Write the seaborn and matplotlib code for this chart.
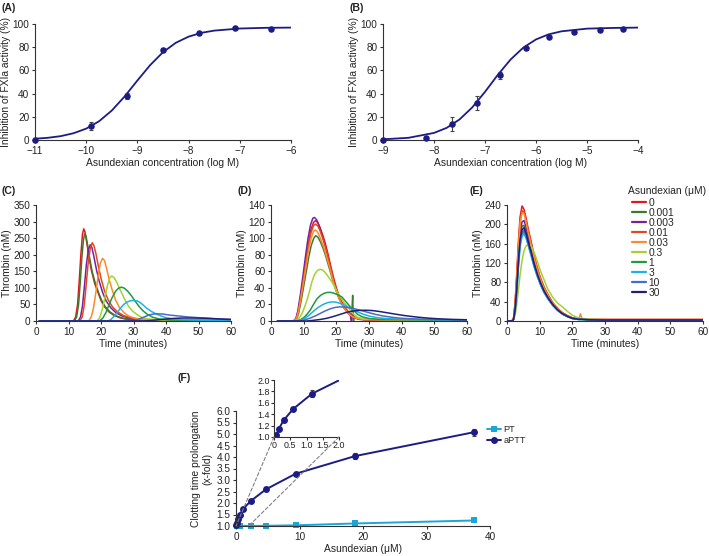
import matplotlib
matplotlib.use("Agg")
import matplotlib.pyplot as plt
from matplotlib.lines import Line2D
from matplotlib.patches import ConnectionPatch
from matplotlib.ticker import FormatStrFormatter
import pandas as pd
import seaborn as sns

# (A) FXIa inhibition, purified enzyme
A_LOGC = [-11, -9.9, -9.2, -8.5, -7.8, -7.1, -6.4]
A_INHIB = [0, 12, 38, 78, 92.5, 96.5, 95.5]
A_ERR = [0, 3.5, 2.5, 1.5, 1, 1, 1]
A_FIT_X = [-11, -10.75, -10.5, -10.25, -10, -9.75, -9.5, -9.25, -9, -8.75, -8.5,
           -8.25, -8, -7.75, -7.5, -7, -6.5, -6]
A_FIT_Y = [1.1, 1.9, 3.3, 5.8, 9.8, 16.1, 25.4, 37.5, 51.3, 64.6, 75.7,
           83.8, 89.1, 92.4, 94.3, 96.1, 96.7, 96.9]

# (B) FXIa inhibition, plasma
B_LOGC = [-9, -8.15, -7.65, -7.15, -6.7, -6.2, -5.75, -5.25, -4.75, -4.3]
B_INHIB = [0, 2, 14, 32, 56, 79, 89, 93.5, 95, 95.5]
B_ERR = [0, 1, 6, 6, 3, 1, 1, 1, 1, 1]
B_FIT_X = [-9, -8.5, -8, -7.75, -7.5, -7.25, -7, -6.75, -6.5, -6.25, -6,
           -5.75, -5.5, -5, -4.5, -4]
B_FIT_Y = [0.6, 1.9, 6.1, 10.5, 17.7, 28.1, 41.5, 56.1, 69.3, 79.6, 86.7,
           91.1, 93.7, 96.0, 96.6, 96.9]

# thrombin generation, asundexian doses (uM)
DOSES = ["0", "0.001", "0.003", "0.01", "0.03", "0.3", "1", "3", "10", "30"]
DOSE_COLORS = ["#e8161b", "#3c7a2e", "#7a1fa0", "#e04a1b", "#ff8a2a",
               "#a3d233", "#1f9a3e", "#1fb2e0", "#4a6cc4", "#1f1f7a"]

# (C) (time min, thrombin nM) per dose
C_TRACES = {
    "0": [(1, 0), (11.5, 0), (12.2, 12), (12.8, 50), (13.3, 120), (13.8, 200), (14.3, 262),
          (14.7, 278), (15.1, 268), (15.6, 238), (16.2, 200), (17, 155), (18, 115), (19, 88),
          (20, 62), (21, 44), (22.5, 27), (24, 17), (26, 9), (28, 5), (32, 3), (40, 2), (60, 1)],
    "0.001": [(1, 0), (11.8, 0), (12.5, 12), (13.1, 50), (13.6, 115), (14.1, 190), (14.6, 245),
              (15, 263), (15.4, 255), (15.9, 228), (16.5, 190), (17.3, 148), (18.3, 112),
              (19.3, 84), (20.3, 60), (21.3, 43), (22.8, 27), (24.5, 16), (26.5, 9), (29, 5),
              (33, 3), (40, 2), (60, 1)],
    "0.003": [(1, 0), (13, 0), (13.7, 12), (14.3, 45), (14.9, 105), (15.5, 170), (16.1, 215),
              (16.7, 230), (17.2, 222), (17.8, 195), (18.6, 155), (19.5, 118), (20.5, 86),
              (21.5, 62), (23, 40), (24.5, 26), (26.5, 15), (29, 8), (32, 5), (36, 3), (45, 2),
              (60, 1)],
    "0.01": [(1, 0), (13.5, 0), (14.2, 12), (14.8, 45), (15.4, 105), (16, 170), (16.7, 220),
             (17.3, 236), (17.8, 228), (18.4, 205), (19.2, 165), (20.1, 125), (21.1, 90),
             (22.2, 64), (23.5, 43), (25, 28), (27, 16), (29.5, 9), (33, 5), (38, 3), (60, 1)],
    "0.03": [(1, 0), (16.2, 0), (17, 12), (17.7, 40), (18.4, 85), (19.1, 135), (19.8, 175),
             (20.5, 189), (21.1, 182), (21.8, 155), (22.6, 122), (23.5, 92), (24.5, 63),
             (25.6, 42), (27, 26), (28.5, 15), (30.5, 8), (33, 4), (38, 2), (60, 1)],
    "0.3": [(1, 0), (18.8, 0), (19.6, 10), (20.4, 35), (21.2, 70), (22, 108), (22.7, 130),
            (23.3, 136), (24, 131), (24.8, 118), (25.7, 98), (26.6, 80), (27.4, 63), (28.5, 44),
            (29.7, 30), (31, 20), (32.5, 11), (34.5, 6), (38, 3), (45, 2), (60, 1)],
    "1": [(1, 0), (19.5, 0), (20.5, 8), (21.5, 25), (22.5, 50), (23.5, 72), (24.5, 90),
          (25.4, 99), (26.3, 102), (27.2, 99), (28.2, 90), (29.3, 77), (30.5, 60), (31.7, 44),
          (33, 30), (34.3, 20), (36, 11), (38, 6), (41, 3), (48, 2), (60, 1)],
    "3": [(1, 0), (22, 0), (23, 4), (24, 14), (25, 26), (26, 39), (27, 50), (28, 57), (29, 61),
          (30, 62), (31, 61), (32, 56), (33, 48), (34, 39), (35.5, 29), (37, 21), (38.5, 15),
          (40, 10), (42, 6), (45, 4), (50, 2.5), (60, 1.5)],
    "10": [(1, 0), (29, 0), (31, 3), (33, 11), (35, 19), (37, 22), (39, 21), (41, 18), (44, 15),
           (47, 12), (50, 10), (53, 8), (56, 6), (60, 4)],
    "30": [(1, 0), (33, 0), (37, 3), (41, 7), (45, 9), (49, 9), (53, 8), (57, 6), (60, 5)],
}

# (D)
D_TRACES = {
    "0": [(2, 0), (7, 0), (7.8, 3), (8.4, 12), (9.2, 32), (10, 53), (10.8, 75), (11.5, 94),
          (12.2, 110), (13, 119), (13.6, 121), (14.3, 119), (15.1, 112), (15.9, 103),
          (16.6, 94), (17.5, 80), (18.3, 66), (19.1, 53), (20, 40), (20.8, 31), (21.7, 23),
          (22.7, 16), (23.7, 11), (25, 6), (26.5, 3), (29, 1.5), (35, 1), (60, 1)],
    "0.001": [(2, 0), (7.1, 0), (7.9, 3), (8.5, 10), (9.3, 26), (10.1, 44), (10.9, 62),
              (11.6, 78), (12.3, 91), (13.1, 100), (13.7, 103), (14.4, 101), (15.2, 95),
              (16, 87), (16.7, 79), (17.6, 67), (18.4, 56), (19.2, 45), (20.1, 35), (20.9, 27),
              (21.8, 20), (22.8, 14), (23.8, 9), (24.7, 6), (25, 31), (25.2, -3), (25.5, 4),
              (26.5, 3), (29, 1.5), (60, 1)],
    "0.003": [(2, 0), (6.8, 0), (7.6, 3), (8.2, 12), (9, 32), (9.8, 55), (10.6, 79), (11.3, 99),
              (12.1, 116), (12.8, 124), (13.3, 125), (14, 122), (14.8, 114), (15.6, 104),
              (16.4, 94), (17.3, 80), (18.1, 66), (18.9, 53), (19.8, 40), (20.6, 30), (21.5, 22),
              (22.5, 15), (23.5, 10), (24.3, 7), (24.6, -2), (24.9, 8), (25.5, 4), (27, 2),
              (30, 1), (60, 1)],
    "0.01": [(2, 0), (7, 0), (7.8, 3), (8.4, 12), (9.2, 31), (10, 52), (10.8, 73), (11.5, 91),
             (12.2, 106), (13, 115), (13.6, 117), (14.3, 115), (15.1, 108), (15.9, 99),
             (16.6, 90), (17.5, 77), (18.3, 63), (19.1, 50), (20, 38), (20.8, 29), (21.7, 21),
             (22.7, 14), (23.7, 9), (25, 5), (26.5, 3), (29, 1.5), (60, 1)],
    "0.03": [(2, 0), (7, 0), (7.8, 3), (8.4, 11), (9.2, 29), (10, 48), (10.8, 68), (11.5, 85),
             (12.2, 99), (13, 108), (13.6, 110), (14.3, 107), (15.1, 100), (15.9, 92),
             (16.6, 83), (17.5, 71), (18.3, 59), (19.1, 47), (20, 36), (20.8, 27), (21.7, 20),
             (22.7, 14), (23.7, 9), (25, 5), (26.5, 3), (29, 1.5), (60, 1)],
    "0.3": [(2, 0), (7.5, 0), (8.5, 3), (9.5, 9), (10.3, 17), (11, 25), (11.8, 36), (12.5, 47),
            (13.3, 56), (14.2, 61), (15.1, 62.5), (16, 61), (16.9, 57), (17.8, 52), (18.7, 47),
            (19.6, 40), (20.4, 34), (21.2, 29), (22.4, 22), (23.7, 16), (25, 9), (26.5, 4.5),
            (28.5, 2.5), (35, 1.5), (60, 1)],
    "1": [(2, 0), (8, 0), (9, 1.5), (10, 4), (11, 8), (12, 13), (13, 20), (14.1, 27), (15.2, 31),
          (16.3, 33.5), (17.3, 34.5), (18.3, 34.5), (19.3, 33.5), (20.5, 31.5), (21.7, 29),
          (23, 23), (24.3, 17), (25.5, 12), (26.5, 8), (28, 5), (30, 3), (33, 2), (60, 1)],
    "3": [(2, 0), (8.3, 0), (9.5, 1.5), (10.5, 3.5), (11.5, 6.5), (12.5, 10), (13.5, 13.5),
          (14.5, 16.5), (15.5, 19), (16.5, 21), (17.5, 22.3), (18.7, 23), (19.8, 22.8),
          (21, 21.5), (22.3, 19.5), (23.5, 17), (25, 14), (26.5, 11), (28, 8.5), (30, 6),
          (32.5, 4), (35, 3), (40, 2), (60, 1)],
    "10": [(2, 0), (9, 0), (10.5, 1.5), (12, 3.5), (13.5, 6), (15, 9), (16.5, 12), (18, 14.5),
           (19.5, 16.3), (21, 17), (22.5, 16.8), (24, 16), (25.5, 14.8), (27, 13.3),
           (28.5, 11.7), (30, 10), (32, 8), (34, 6.3), (36.5, 4.8), (39, 3.6), (42, 2.8),
           (46, 2.2), (50, 1.8), (55, 1.5), (60, 1.2)],
    "30": [(2, 0), (11, 0), (13, 0.8), (15, 1.8), (17, 3.2), (19, 5.3), (21, 7.8), (23, 10.3),
           (25, 12), (27, 12.8), (29, 13), (31, 12.6), (33, 11.6), (35, 10.3), (37, 9),
           (39, 7.7), (41, 6.5), (43, 5.5), (45, 4.6), (48, 3.5), (51, 2.7), (55, 2), (60, 1.5)],
}

# (E) shared time grid
E_TIME = [0, 1.5, 2, 2.5, 3, 3.5, 4, 4.6, 5.2, 5.8, 6.5, 7.3, 8.2, 9.2, 10.2, 11.3, 12.5,
          14, 15.5, 17, 18.5, 20, 22, 22.5, 23, 25, 30, 40, 50, 60]
E_THROMBIN = {
    "0": [0, 0, 6, 40, 100, 165, 215, 238, 231, 214, 190, 167, 138, 112, 90, 71, 55, 38, 26,
          17, 11, 6.5, 4, 4, 4, 3, 3, 3, 3, 3],
    "0.001": [0, 0, 4, 28, 76, 131, 174, 196, 198, 186, 167, 147, 122, 99, 80, 63, 49, 34, 23,
              15, 10, 6, 4, 4, 4, 3, 2.5, 2.5, 2.5, 2.5],
    "0.003": [0, 0, 4, 30, 80, 138, 183, 205, 208, 195, 175, 154, 128, 104, 84, 66, 51, 35, 24,
              16, 10, 6, 4, 4, 4, 3, 2.5, 2.5, 2.5, 2.5],
    "0.01": [0, 0, 5, 36, 92, 155, 205, 228, 226, 210, 187, 164, 136, 110, 88, 70, 54, 37, 25,
             17, 11, 6.5, 4, 4, 4, 3, 3, 3, 3, 3],
    "0.03": [0, 0, 5, 35, 90, 152, 202, 224, 222, 206, 183, 160, 133, 108, 86, 68, 53, 36, 25,
             16, 10, 6, 4, 15, 3, 3, 3, 3, 3, 3],
    "0.3": [0, 0, 2, 12, 35, 65, 95, 125, 145, 155, 159, 156, 144, 125, 104, 86, 66, 49, 37,
            29, 20, 12, 6, 5, 5, 3.5, 2.5, 2.5, 2.5, 2.5],
    "1": [0, 0, 3, 22, 64, 116, 158, 180, 184, 175, 158, 139, 116, 95, 77, 60, 47, 33, 22, 14,
          9, 5, 3, 3, 3, 2.5, 2, 2, 2, 2],
    "3": [0, 0, 3, 20, 60, 110, 152, 175, 180, 172, 156, 137, 114, 93, 75, 59, 46, 32, 22, 14,
          9, 5, 3, 3, 3, 2.5, 2, 2, 2, 2],
    "10": [0, 0, 3, 24, 68, 121, 163, 184, 188, 178, 160, 141, 118, 96, 78, 61, 47, 33, 22, 15,
           9.5, 5.5, 3.5, 3.5, 3.5, 2.5, 2, 2, 2, 2],
    "30": [0, 0, 3, 25, 70, 125, 168, 189, 193, 182, 164, 145, 121, 99, 80, 63, 49, 34, 23, 15,
           9.5, 5.5, 3.5, 3.5, 3.5, 2.5, 2, 2, 2, 2],
}

# (F) clotting time prolongation
APTT_X = [0.073, 0.146, 0.293, 0.586, 1.17, 2.34, 4.69, 9.375, 18.75, 37.5]
APTT_Y = [1.03, 1.14, 1.29, 1.49, 1.76, 2.09, 2.59, 3.27, 4.04, 5.08]
APTT_ERR = [0.01, 0.02, 0.03, 0.04, 0.06, 0.04, 0.05, 0.05, 0.12, 0.15]
PT_X = [0.146, 0.586, 2.34, 4.69, 9.375, 18.75, 37.5]
PT_Y = [1.0, 1.01, 1.0, 1.01, 1.03, 1.11, 1.24]

NAVY = "#1c1c84"
CYAN = "#1aa7d8"
INK = "#333333"

sns.set_style("ticks")
plt.rcParams["font.family"] = ["Liberation Sans", "DejaVu Sans"]
plt.rcParams.update({
    "axes.edgecolor": INK, "axes.linewidth": 0.8,
    "xtick.color": INK, "ytick.color": INK,
    "xtick.labelcolor": "#222222", "ytick.labelcolor": "#222222",
    "xtick.major.size": 2.5, "ytick.major.size": 2.5,
    "xtick.major.width": 0.8, "ytick.major.width": 0.8,
    "xtick.major.pad": 1.5, "ytick.major.pad": 1.5,
    "xtick.labelsize": 7.2, "ytick.labelsize": 7.2,
    "axes.labelsize": 7.4, "axes.labelcolor": "#222222",
})

W, H = 709, 556
fig = plt.figure(figsize=(W / 100, H / 100), dpi=100)


def add_ax(left, right, top, bottom):
    return fig.add_axes([left / W, 1 - bottom / H, (right - left) / W, (bottom - top) / H])


def long_frame(traces):
    rows = []
    for dose, pts in traces.items():
        for t, v in pts:
            rows.append((dose, t, v))
    return pd.DataFrame(rows, columns=["dose", "time", "thrombin"])


palette = dict(zip(DOSES, DOSE_COLORS))

# ---- (A) and (B) ----
for box, xs, ys, es, fx, fy, xlim in [
    ((35, 291, 24, 140), A_LOGC, A_INHIB, A_ERR, A_FIT_X, A_FIT_Y, (-11, -6)),
    ((383, 638, 24, 140), B_LOGC, B_INHIB, B_ERR, B_FIT_X, B_FIT_Y, (-9, -4)),
]:
    ax = add_ax(*box)
    sns.lineplot(x=fx, y=fy, color=NAVY, lw=1.3, ax=ax)
    ax.errorbar(xs, ys, yerr=es, fmt="none", ecolor="#444444", elinewidth=0.8,
                capsize=1.5, capthick=0.8, clip_on=False)
    sns.scatterplot(x=xs, y=ys, color=NAVY, s=22, edgecolor=NAVY, linewidth=0,
                    ax=ax, clip_on=False, zorder=3)
    ax.set_xlim(*xlim)
    ax.set_ylim(0, 100)
    ax.set_xticks(range(xlim[0], xlim[1] + 1))
    ax.set_yticks(range(0, 101, 20))
    ax.set_xlabel("Asundexian concentration (log M)", labelpad=2)
    ax.set_ylabel("Inhibition of FXIa activity (%)", labelpad=1)
    sns.despine(ax=ax)

# ---- (C) (D) (E) ----
panels = [
    ((36, 231, 205, 321), long_frame(C_TRACES), 350, 50),
    ((271, 467, 205, 321), long_frame(D_TRACES), 140, 20),
    ((507, 703, 205, 321),
     long_frame({d: list(zip(E_TIME, v)) for d, v in E_THROMBIN.items()}), 240, 40),
]
for box, df, ymax, ystep in panels:
    ax = add_ax(*box)
    sns.lineplot(data=df, x="time", y="thrombin", hue="dose", hue_order=DOSES,
                 palette=palette, estimator=None, sort=False, lw=1.1, legend=False, ax=ax)
    ax.set_xlim(0, 60)
    ax.set_ylim(0, ymax)
    ax.set_xticks(range(0, 61, 10))
    ax.set_yticks(range(0, ymax + 1, ystep))
    ax.set_xlabel("Time (minutes)", labelpad=2)
    ax.set_ylabel("Thrombin (nM)", labelpad=1)
    sns.despine(ax=ax)

fig.text(628 / W, 1 - 191 / H, "Asundexian (μM)", fontsize=7.4, va="center", ha="left",
         color="#222222")
handles = [Line2D([], [], color=c, lw=1.6) for c in DOSE_COLORS]
fig.legend(handles, DOSES, loc="upper left", bbox_to_anchor=(632 / W, 1 - 198 / H),
           frameon=False, fontsize=7.4, handlelength=1.35, handletextpad=0.25,
           labelspacing=0.0, borderpad=0, borderaxespad=0)

# ---- (F) ----
axf = add_ax(236, 490, 411, 526)
sns.lineplot(x=PT_X, y=PT_Y, color=CYAN, lw=1.4, marker="s", markersize=5,
             markeredgewidth=0, ax=axf, clip_on=False)
axf.errorbar(APTT_X, APTT_Y, yerr=APTT_ERR, fmt="none", ecolor="#444444",
             elinewidth=0.8, capsize=1.5, capthick=0.8)
sns.lineplot(x=APTT_X, y=APTT_Y, color=NAVY, lw=1.4, marker="o", markersize=5,
             markeredgewidth=0, ax=axf, clip_on=False)
axf.set_xlim(0, 40)
axf.set_ylim(1, 6)
axf.set_xticks(range(0, 41, 10))
axf.set_yticks([1 + 0.5 * i for i in range(11)])
axf.yaxis.set_major_formatter(FormatStrFormatter("%.1f"))
axf.set_xlabel("Asundexian (μM)", labelpad=2)
axf.set_ylabel("Clotting time prolongation\n(x-fold)", labelpad=3)
sns.despine(ax=axf)

axi = add_ax(274, 339, 380, 437)
axi.errorbar(APTT_X, APTT_Y, yerr=APTT_ERR, fmt="none", ecolor="#444444",
             elinewidth=0.8, capsize=1.5, capthick=0.8)
sns.lineplot(x=APTT_X, y=APTT_Y, color=NAVY, lw=1.4, marker="o", markersize=5,
             markeredgewidth=0, ax=axi)
axi.set_xlim(0, 2)
axi.set_ylim(1, 2)
axi.set_xticks([0, 0.5, 1, 1.5, 2])
axi.set_xticklabels(["0", "0.5", "1.0", "1.5", "2.0"])
axi.set_yticks([1 + 0.2 * i for i in range(6)])
axi.yaxis.set_major_formatter(FormatStrFormatter("%.1f"))
axi.tick_params(labelsize=6.4, length=2, pad=1)
axi.set_facecolor("none")
sns.despine(ax=axi)

for xa, xb in [(0, 0), (2, 2)]:
    con = ConnectionPatch(xyA=(xa, 1), coordsA=axi.transData, xyB=(xb, 1),
                          coordsB=axf.transData, ls=(0, (3, 2)), color="#808080", lw=0.8)
    fig.add_artist(con)

fhandles = [Line2D([], [], color=CYAN, lw=1.4, marker="s", markersize=5, markeredgewidth=0),
            Line2D([], [], color=NAVY, lw=1.4, marker="o", markersize=5, markeredgewidth=0)]
fig.legend(fhandles, ["PT", "aPTT"], loc="upper left", bbox_to_anchor=(486 / W, 1 - 424 / H),
           frameon=False, fontsize=6.6, handlelength=1.5, handletextpad=0.3,
           labelspacing=0.2, borderpad=0.1, borderaxespad=0)

# panel letters
for txt, x, y in [("(A)", 2, 3), ("(B)", 349, 3), ("(C)", 2, 186), ("(D)", 237, 186),
                  ("(E)", 470, 186), ("(F)", 178, 373)]:
    fig.text(x / W, 1 - y / H, txt, fontsize=7.6, fontweight="bold", va="top", ha="left",
             color="#222222")

fig.savefig("out.png", dpi=100)
